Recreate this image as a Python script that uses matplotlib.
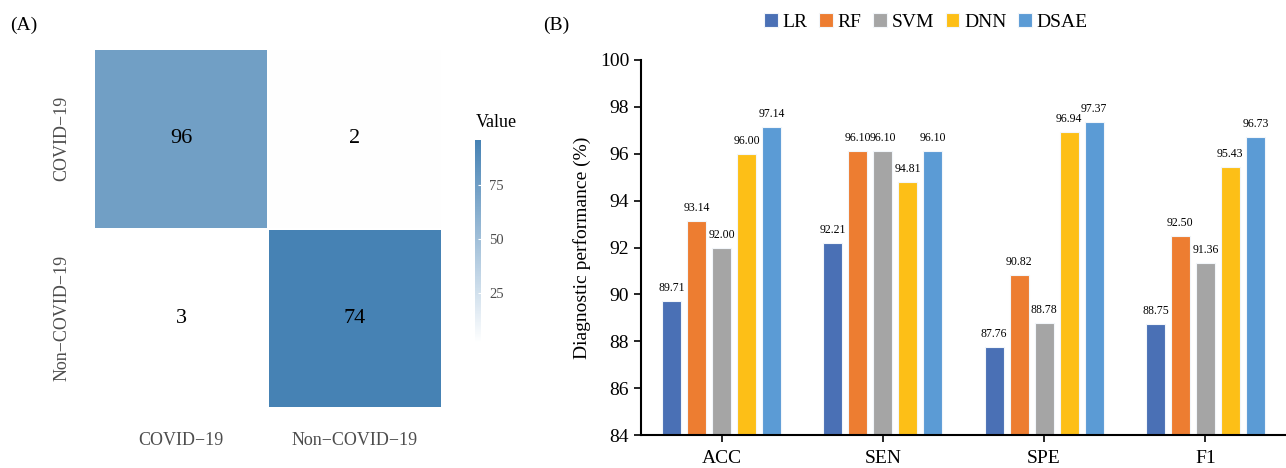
import numpy as np
import matplotlib
matplotlib.use("Agg")
import matplotlib.pyplot as plt
from matplotlib.colors import LinearSegmentedColormap

plt.rcParams['font.family'] = ['Liberation Serif', 'DejaVu Serif']

# panel A: confusion matrix
cm_labels = ["COVID\u221219", "Non\u2212COVID\u221219"]
cm_counts = np.array([[96, 2],
                      [3, 74]])
# shade used for each cell in the source figure (fill mapped from the flipped matrix)
cm_fill = cm_counts[::-1, ::-1]
cbar_ticks = [25, 50, 75]

# panel B: diagnostic performance
metrics = ["ACC", "SEN", "SPE", "F1"]
models = ["LR", "RF", "SVM", "DNN", "DSAE"]
scores = {
    "LR":   [89.71, 92.21, 87.76, 88.75],
    "RF":   [93.14, 96.10, 90.82, 92.50],
    "SVM":  [92.00, 96.10, 88.78, 91.36],
    "DNN":  [96.00, 94.81, 96.94, 95.43],
    "DSAE": [97.14, 96.10, 97.37, 96.73],
}
colors = ["#4a70b5", "#ed7d31", "#a5a5a5", "#fdbf17", "#5b9bd5"]

fig = plt.figure(figsize=(12.86, 4.68), dpi=100)

# ---- (A) heatmap
ax1 = fig.add_axes([0.0731, 0.1282, 0.2706, 0.767])
cmap = LinearSegmentedColormap.from_list("wb", ["#ffffff", "#4682b4"])
mesh = ax1.pcolormesh(np.arange(3), np.arange(3), cm_fill[::-1], cmap=cmap,
                      vmin=cm_fill.min(), vmax=cm_fill.max(),
                      edgecolor="white", linewidth=1.2)
for i in range(2):
    for j in range(2):
        ax1.text(j + 0.5, 1.5 - i, str(cm_counts[i, j]), ha="center", va="center",
                 fontsize=16, color="black")
ax1.set_xlim(0, 2)
ax1.set_ylim(0, 2)
ax1.set_xticks([0.5, 1.5])
ax1.set_xticklabels(cm_labels)
ax1.set_yticks([1.5, 0.5])
ax1.set_yticklabels(cm_labels, rotation=90, va="center")
ax1.tick_params(length=0, labelsize=13, labelcolor="#4d4d4d")
ax1.tick_params(axis="x", pad=17)
ax1.tick_params(axis="y", pad=17)
for s in ax1.spines.values():
    s.set_visible(False)

cax = fig.add_axes([0.3694, 0.267, 0.0047, 0.434])
cb = fig.colorbar(mesh, cax=cax, ticks=cbar_ticks)
cb.outline.set_visible(False)
cax.tick_params(length=2, direction="in", color="white", labelsize=10.5,
                labelcolor="#4d4d4d", pad=6)
fig.text(0.370, 0.738, "Value", fontsize=13, ha="left", va="center")

fig.text(0.008, 0.946, "(A)", fontsize=14, ha="left", va="center")
fig.text(0.422, 0.946, "(B)", fontsize=14, ha="left", va="center")

# ---- (B) grouped bars
ax2 = fig.add_axes([0.4984, 0.0705, 0.5016, 0.8013])
x = np.arange(len(metrics))
pitch = 0.155
width = 0.118
for k, m in enumerate(models):
    pos = x + (k - 2) * pitch
    bars = ax2.bar(pos, scores[m], width, color=colors[k], label=m,
                   edgecolor="#f2f6fa", linewidth=0.8)
    for b, v in zip(bars, scores[m]):
        ax2.annotate(f"{v:.2f}", (b.get_x() + b.get_width() / 2, v),
                     xytext=(0, 5), textcoords="offset points",
                     ha="center", va="bottom", fontsize=8.5)
ax2.set_xlim(-0.5, len(metrics) - 0.5)
ax2.set_ylim(84, 100)
ax2.set_yticks(np.arange(84, 101, 2))
ax2.set_xticks(x)
ax2.set_xticklabels(metrics)
ax2.set_ylabel("Diagnostic performance (%)", fontsize=14, labelpad=6)
ax2.tick_params(labelsize=14, length=5, width=1.2, direction="out")
ax2.tick_params(axis="x", pad=6)
ax2.spines["top"].set_visible(False)
ax2.spines["right"].set_visible(False)
ax2.spines["left"].set_linewidth(1.5)
ax2.spines["bottom"].set_linewidth(1.5)

fig.legend(loc="center", bbox_to_anchor=(0.72, 0.953), ncol=5, frameon=False,
           fontsize=14, handlelength=0.7, handleheight=0.7, handletextpad=0.25,
           columnspacing=0.6)

fig.savefig("out.png", dpi=100)
